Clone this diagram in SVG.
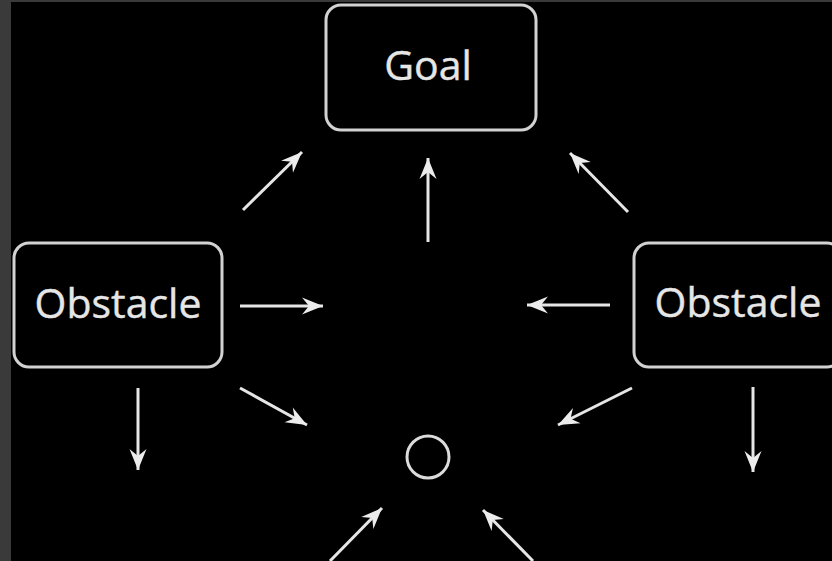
<svg xmlns="http://www.w3.org/2000/svg" width="832" height="561" viewBox="0 0 832 561">
<defs>
<marker id="ah" markerUnits="userSpaceOnUse" markerWidth="26" markerHeight="22" viewBox="-22 -11 26 22" refX="0" refY="0" orient="auto">
<path d="M0,0 L-21,-8.5 L-14,0 L-21,8.5 Z" fill="#ececec"/>
</marker>
</defs>
<style>
.box{fill:#000;stroke:#d2d2d2;stroke-width:3}
.lbl{fill:#e6e6e6;font-family:"Open Sans","Noto Sans",sans-serif;font-size:41px;text-anchor:middle;stroke:#e6e6e6;stroke-width:0.4}
.c{stroke:#e6e6e6;stroke-width:3;fill:none;marker-end:url(#ah)}
</style>
<rect x="0" y="0" width="832" height="561" fill="#000"/>
<rect x="0" y="0" width="11" height="561" fill="#3a3a3a"/>
<rect x="0" y="0" width="832" height="2" fill="#3a3a3a"/>
<g id="goal">
<rect class="box" x="326" y="5" width="210" height="125" rx="15"/>
<text class="lbl" x="428" y="80">Goal</text>
</g>
<g id="obstacle-left">
<rect class="box" x="14" y="243" width="208" height="124" rx="15"/>
<text class="lbl" x="118" y="318">Obstacle</text>
</g>
<g id="obstacle-right">
<rect class="box" x="634" y="243" width="208" height="124" rx="15"/>
<text class="lbl" x="738" y="317">Obstacle</text>
</g>
<g id="agent">
<circle cx="428" cy="457" r="21" fill="none" stroke="#dcdcdc" stroke-width="3"/>
</g>
<g id="connectors">
<line class="c" x1="428" y1="242" x2="428" y2="158"/>
<line class="c" x1="243" y1="210" x2="302" y2="152"/>
<line class="c" x1="628" y1="212" x2="570" y2="153"/>
<line class="c" x1="240" y1="306" x2="323" y2="306"/>
<line class="c" x1="610" y1="305" x2="527" y2="305"/>
<line class="c" x1="240" y1="388" x2="307" y2="425"/>
<line class="c" x1="632" y1="388" x2="558" y2="425"/>
<line class="c" x1="138" y1="388" x2="138" y2="470"/>
<line class="c" x1="753" y1="387" x2="753" y2="472"/>
<line class="c" x1="330" y1="561" x2="382" y2="508"/>
<line class="c" x1="533" y1="561" x2="483" y2="510"/>
</g>
</svg>
